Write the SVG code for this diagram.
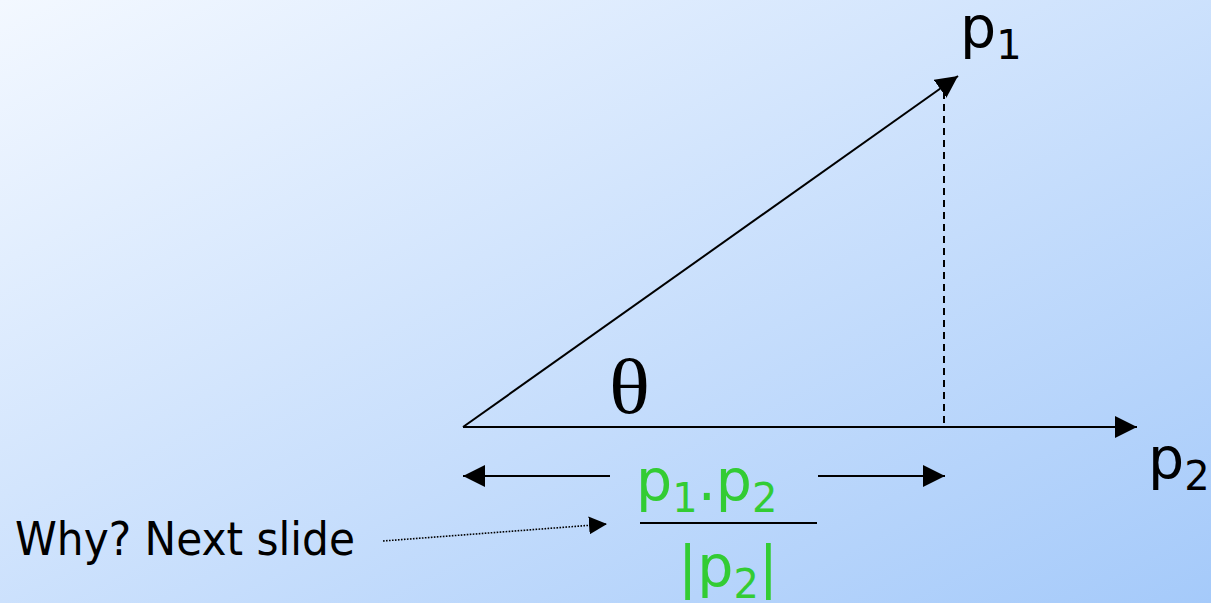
<svg xmlns="http://www.w3.org/2000/svg" width="1211" height="603" viewBox="0 0 1211 603">
<defs>
<linearGradient id="bg" x1="0" y1="0" x2="1" y2="1">
<stop offset="0" stop-color="#f3f8ff"/>
<stop offset="1" stop-color="#a5cafa"/>
</linearGradient>
<marker id="ahb" viewBox="0 0 10 10" refX="10" refY="5" markerWidth="22" markerHeight="22" markerUnits="userSpaceOnUse" orient="auto">
<path d="M0,0 L10,5 L0,10 Z" fill="#000"/>
</marker>
<marker id="ahs" viewBox="0 0 10 10" refX="10" refY="5" markerWidth="18" markerHeight="18" markerUnits="userSpaceOnUse" orient="auto">
<path d="M0,0 L10,5 L0,10 Z" fill="#000"/>
</marker>
</defs>
<style>
.ln{stroke:#000;stroke-width:2;fill:none}
.t{font-family:"DejaVu Sans",Verdana,Tahoma,sans-serif;fill:#000}
.g{fill:#33cc33}
</style>
<rect width="1211" height="603" fill="url(#bg)"/>
<g id="connectors">
<line class="ln" x1="463" y1="427" x2="958" y2="76" marker-end="url(#ahb)"/>
<line class="ln" x1="463" y1="427" x2="1137" y2="427" marker-end="url(#ahb)"/>
<line class="ln" x1="944" y1="92" x2="944" y2="427" stroke-dasharray="7,5"/>
<line class="ln" x1="610" y1="476" x2="463" y2="476" marker-end="url(#ahb)"/>
<line class="ln" x1="818" y1="476" x2="945" y2="476" marker-end="url(#ahb)"/>
<line class="ln" x1="640" y1="523" x2="817" y2="523" stroke-width="2.5"/>
<line x1="383" y1="541" x2="607" y2="524" stroke="#000" stroke-width="1.6" stroke-dasharray="1.6,1.4" marker-end="url(#ahs)"/>
</g>
<g id="p1"><text class="t" x="960" y="47" font-size="57">p<tspan font-size="40" dy="12">1</tspan></text></g>
<g id="p2"><text class="t" x="1148" y="478" font-size="57">p<tspan font-size="40" dy="12">2</tspan></text></g>
<g id="theta"><text x="609" y="413" font-family="'Liberation Serif','Times New Roman',serif" font-size="78" textLength="41" lengthAdjust="spacingAndGlyphs">θ</text></g>
<g id="formula">
<text class="t g" x="636" y="500" font-size="57">p<tspan font-size="40" dy="12">1</tspan><tspan dy="-12">.p</tspan><tspan font-size="40" dy="12">2</tspan></text>
<text class="t g" x="678" y="586" font-size="57">|p<tspan font-size="40" dy="12">2</tspan><tspan dy="-12">|</tspan></text>
</g>
<g id="why"><text class="t" x="15" y="555" font-size="46" textLength="340" lengthAdjust="spacingAndGlyphs">Why? Next slide</text></g>
</svg>
